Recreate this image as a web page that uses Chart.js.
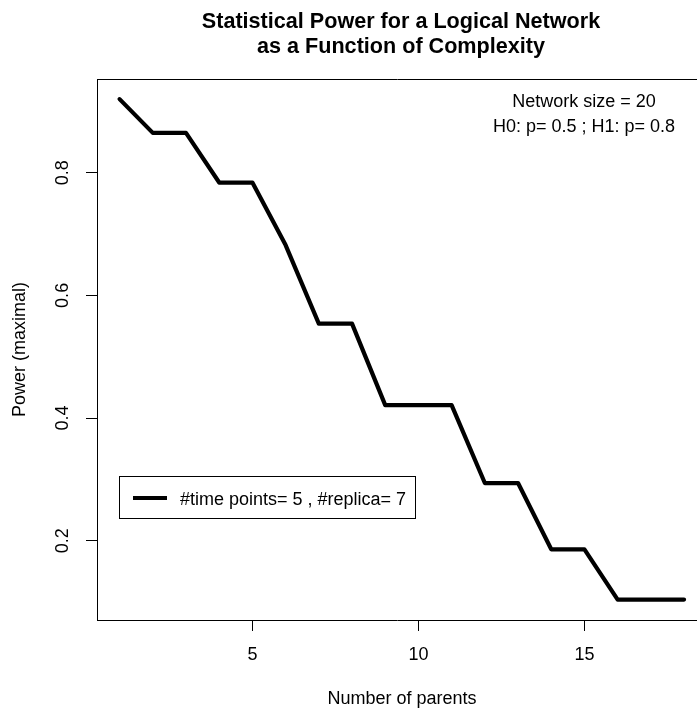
<!DOCTYPE html>
<html>
<head>
<meta charset="utf-8">
<script src="https://cdn.jsdelivr.net/npm/chart.js@4.4.1/dist/chart.umd.min.js"></script>
<style>
  html, body { margin: 0; padding: 0; background: #fff; }
  canvas { display: block; }
</style>
</head>
<body>
<canvas id="c" width="697" height="713"></canvas>
<script>
// ---- data ----
const nParents = [1, 2, 3, 4, 5, 6, 7, 8, 9, 10, 11, 12, 13, 14, 15, 16, 17, 18];
const power = [0.920, 0.865, 0.865, 0.784, 0.784, 0.682, 0.554, 0.554, 0.421, 0.421, 0.421, 0.294, 0.294, 0.186, 0.186, 0.104, 0.104, 0.104];
const xTicks = [5, 10, 15];
const yTicks = [0.2, 0.4, 0.6, 0.8];
const titleLines = ["Statistical Power for a Logical Network", "as a Function of Complexity"];
const xTitle = "Number of parents";
const yTitle = "Power (maximal)";
const seriesLabel = "#time points= 5 , #replica= 7";
const noteLines = ["Network size = 20", "H0: p= 0.5 ; H1: p= 0.8"];

const FONT = "'Liberation Sans', Arial, Helvetica, sans-serif";

const decorPlugin = {
  id: 'decor',
  afterDraw(chart) {
    const ctx = chart.ctx;
    const a = chart.chartArea;
    ctx.save();
    // top border of the plot box (right side is cropped in the reference)
    ctx.strokeStyle = '#000';
    ctx.lineWidth = 1;
    ctx.beginPath();
    ctx.moveTo(a.left, a.top + 0.5);
    ctx.lineTo(chart.width + 5, a.top + 0.5);
    ctx.stroke();

    ctx.fillStyle = '#000';
    // title
    ctx.font = "bold 21.6px " + FONT;
    ctx.textAlign = 'center';
    ctx.textBaseline = 'alphabetic';
    ctx.fillText(titleLines[0], 401, 28);
    ctx.fillText(titleLines[1], 401, 53);

    // axis titles
    ctx.font = "18px " + FONT;
    ctx.fillText(xTitle, 402, 704);
    ctx.save();
    ctx.translate(25, (a.top + a.bottom) / 2);
    ctx.rotate(-Math.PI / 2);
    ctx.fillText(yTitle, 0, 0);
    ctx.restore();

    // notes top right
    ctx.fillText(noteLines[0], 584, 107);
    ctx.fillText(noteLines[1], 584, 132);

    // legend box
    ctx.lineWidth = 1;
    ctx.strokeRect(119.5, 476.5, 296, 42);
    ctx.lineWidth = 4;
    ctx.lineCap = 'butt';
    ctx.beginPath();
    ctx.moveTo(133, 498);
    ctx.lineTo(167, 498);
    ctx.stroke();
    ctx.textAlign = 'left';
    ctx.fillText(seriesLabel, 180, 505);
    ctx.restore();
  }
};

new Chart(document.getElementById('c'), {
  type: 'line',
  data: {
    datasets: [{
      label: seriesLabel,
      data: nParents.map((x, i) => ({ x: x, y: power[i] })),
      borderColor: '#000',
      backgroundColor: '#000',
      borderWidth: 4.2,
      pointRadius: 0,
      tension: 0,
      fill: false,
      borderCapStyle: 'round',
      borderJoinStyle: 'round'
    }]
  },
  options: {
    responsive: false,
    animation: false,
    devicePixelRatio: 1,
    layout: { padding: { left: 0, right: 0, top: 79, bottom: 0 } },
    plugins: {
      legend: { display: false },
      title: { display: false },
      tooltip: { enabled: false }
    },
    scales: {
      x: {
        type: 'linear',
        min: 0.32,
        max: 18.39,
        afterBuildTicks: s => { s.ticks = xTicks.map(v => ({ value: v })); },
        afterFit: s => { s.height = 93; },
        grid: { display: true, drawOnChartArea: false, drawTicks: true, tickLength: 11, tickColor: '#000', tickWidth: 1 },
        border: { display: true, color: '#000', width: 1 },
        ticks: { color: '#000', font: { family: FONT, size: 18 }, padding: 13, maxRotation: 0, minRotation: 0 }
      },
      y: {
        type: 'linear',
        min: 0.0707,
        max: 0.9528,
        afterBuildTicks: s => { s.ticks = yTicks.map(v => ({ value: v })); },
        afterFit: s => { s.width = 97; },
        grid: { display: true, drawOnChartArea: false, drawTicks: true, tickLength: 11, tickColor: '#000', tickWidth: 1 },
        border: { display: true, color: '#000', width: 1 },
        ticks: { color: '#000', font: { family: FONT, size: 18 }, padding: 10, minRotation: 90, maxRotation: 90, crossAlign: 'center' }
      }
    }
  },
  plugins: [decorPlugin]
});
</script>
</body>
</html>
